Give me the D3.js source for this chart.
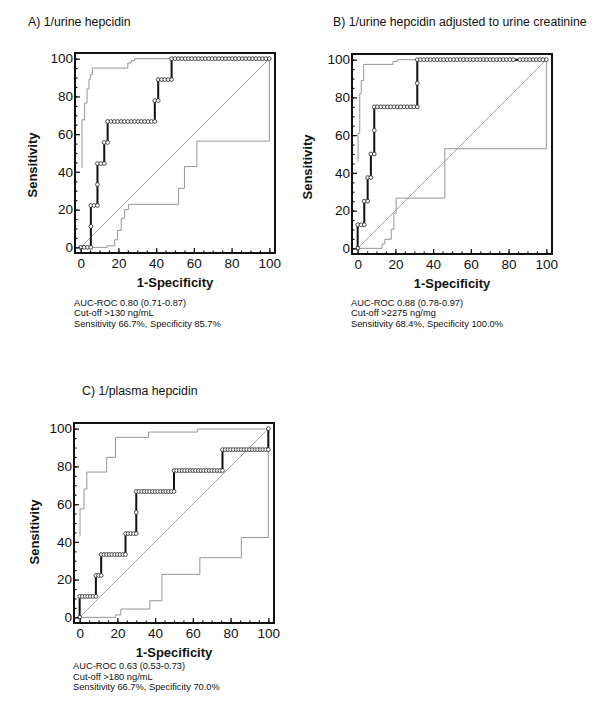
<!DOCTYPE html>
<html>
<head>
<meta charset="utf-8">
<script src="https://cdn.jsdelivr.net/npm/d3@7"></script>
<style>
  html, body { margin: 0; padding: 0; background: #fff; }
  svg { display: block; }
  text { font-family: "Liberation Sans", Arial, Helvetica, sans-serif; fill: #111; }
</style>
</head>
<body>
<script>
// ---------------- DATA ----------------
const titles = ["A) 1/urine hepcidin", "B) 1/urine hepcidin adjusted to urine creatinine", "C) 1/plasma hepcidin"];
const xAxisTitle = "1-Specificity";
const yAxisTitle = "Sensitivity";
const tickLabels = [0, 20, 40, 60, 80, 100];
const minorTicks = [0, 5, 10, 15, 20, 25, 30, 35, 40, 45, 50, 55, 60, 65, 70, 75, 80, 85, 90, 95, 100];

// ROC points: [sensitivity, [1-specificity values of points on that level]]
const rocA = [
  [0, [0, 1.8, 3.6, 5.4]],
  [11.1, [5.4]],
  [22.2, [5.4, 7.1, 8.9]],
  [33.3, [8.9]],
  [44.4, [8.9, 10.7, 12.5]],
  [55.6, [12.5, 14.3]],
  [66.7, [14.3, 16.1, 17.9, 19.6, 21.4, 23.2, 25.0, 26.8, 28.6, 30.4, 32.1, 33.9, 35.7, 37.5, 39.3]],
  [77.8, [39.3, 41.1]],
  [88.9, [41.1, 42.9, 44.6, 46.4, 48.2]],
  [100, [48.2, 50.0, 51.8, 53.6, 55.4, 57.1, 58.9, 60.7, 62.5, 64.3, 66.1, 67.9, 69.6, 71.4, 73.2, 75.0,
         76.8, 78.6, 80.4, 82.1, 83.9, 85.7, 87.5, 89.3, 91.1, 92.9, 94.6, 96.4, 98.2, 100]]
];
const upperA = [[0.7,42],[0.7,67.6],[2.1,67.6],[2.1,76.5],[3.4,76.5],[3.4,84],[4.4,84],[4.4,89],[5.1,89],[5.1,91.5],
  [6.2,91.5],[6.2,95],[25,95],[25,97.7],[26.8,97.7],[26.8,99],[28.6,99],[28.6,100],[100,100]];
const lowerA = [[0,0],[14,0],[14,0.8],[18,0.8],[18,4],[19.5,4],[19.5,9],[21.5,9],[21.5,15.4],[23.3,15.4],[23.3,20],
  [25.3,20],[25.3,22.8],[51.9,22.8],[51.9,31.3],[55,31.3],[55,42.8],[61.6,42.8],[61.6,56.3],[100,56.3],[100,100]];
const notesA = ["AUC-ROC 0.80 (0.71-0.87)", "Cut-off >130 ng/mL", "Sensitivity 66.7%, Specificity 85.7%"];

const rocB = [
  [0, [0]],
  [12.5, [0, 1.8, 3.5]],
  [25, [3.5, 5.3]],
  [37.5, [5.3, 7.0]],
  [50, [7.0, 8.8]],
  [62.5, [8.8]],
  [75, [8.8, 10.5, 12.3, 14.0, 15.8, 17.5, 19.3, 21.1, 22.8, 24.6, 26.3, 28.1, 29.8, 31.6]],
  [87.5, [31.6]],
  [100, [31.6, 33.3, 35.1, 36.8, 38.6, 40.4, 42.1, 43.9, 45.6, 47.4, 49.1, 50.9, 52.6, 54.4, 56.1, 57.9,
         59.6, 61.4, 63.2, 64.9, 66.7, 68.4, 70.2, 71.9, 73.7, 75.4, 77.2, 78.9, 80.7, 82.5, 86.0, 87.7,
         89.5, 91.2, 93.0, 94.7, 96.5, 98.2, 100]]
];
const upperB = [[0.2,46],[0.2,61],[1.1,61],[1.1,82],[1.9,82],[1.9,89],[3.2,89],[3.2,97.5],[18.7,97.5],[18.7,99],
  [21,99],[21,100],[100,100]];
const lowerB = [[0,0],[12.9,0],[12.9,2.3],[14.4,2.3],[14.4,4.8],[17.8,4.8],[17.8,10.1],[19.2,10.1],[19.2,18.6],
  [20.4,18.6],[20.4,26.6],[46.2,26.6],[46.2,52.8],[100,52.8],[100,100]];
const notesB = ["AUC-ROC 0.88 (0.78-0.97)", "Cut-off >2275 ng/mg", "Sensitivity 68.4%, Specificity 100.0%"];

const rocC = [
  [0, [0]],
  [11.1, [0, 1.4, 2.9, 4.3, 5.7, 7.1, 8.6]],
  [22.2, [8.6, 10.0, 11.4]],
  [33.3, [11.4, 12.9, 14.3, 15.7, 17.1, 18.6, 20.0, 21.4, 22.9, 24.3]],
  [44.4, [24.3, 25.7, 27.1, 28.6, 30.0]],
  [55.6, [30.0]],
  [66.7, [30.0, 31.4, 32.9, 34.3, 35.7, 37.1, 38.6, 40.0, 41.4, 42.9, 44.3, 45.7, 47.1, 48.6, 50.0]],
  [77.8, [50.0, 51.4, 52.9, 54.3, 55.7, 57.1, 58.6, 60.0, 61.4, 62.9, 64.3, 65.7, 67.1, 68.6, 70.0, 71.4, 72.9, 74.3, 75.7]],
  [88.9, [75.7, 77.1, 78.6, 80.0, 81.4, 82.9, 84.3, 85.7, 87.1, 88.6, 90.0, 91.4, 92.9, 94.3, 95.7, 97.1, 98.6, 100]],
  [100, [100]]
];
const upperC = [[0.2,43],[0.2,57.5],[2.3,57.5],[2.3,68],[3.8,68],[3.8,77],[14.3,77],[14.3,84.8],[19,84.8],[19,95.4],
  [36.5,95.4],[36.5,98.2],[62.3,98.2],[62.3,99.8],[100,99.8]];
const lowerC = [[0,0],[19,0],[19,1.3],[21.8,1.3],[21.8,4.4],[37.2,4.4],[37.2,8.8],[43.6,8.8],[43.6,22.8],[63.7,22.8],
  [63.7,31.6],[85.7,31.6],[85.7,42.3],[100,42.3],[100,100]];
const notesC = ["AUC-ROC 0.63 (0.53-0.73)", "Cut-off >180 ng/mL", "Sensitivity 66.7%, Specificity 70.0%"];

// ---------------- LAYOUT ----------------
const W = 600, H = 705, S = 200;
const panels = [
  { title: titles[0], tx: 28, ty: 26, bx: 75, by: 53, sx: 37, sy: 165, specY: 287, ax: 74, ay: 305.5,
    roc: rocA, upper: upperA, lower: lowerA, notes: notesA },
  { title: titles[1], tx: 333, ty: 26, bx: 352, by: 54, sx: 312, sy: 167, specY: 287.5, ax: 351, ay: 305.5,
    roc: rocB, upper: upperB, lower: lowerB, notes: notesB },
  { title: titles[2], tx: 82, ty: 394.5, bx: 74, by: 423, sx: 38.5, sy: 532, specY: 657, ax: 73, ay: 669,
    roc: rocC, upper: upperC, lower: lowerC, notes: notesC }
];

const svg = d3.select("body").append("svg").attr("width", W).attr("height", H);

panels.forEach(p => {
  const g = svg.append("g");
  const x = d3.scaleLinear().domain([-3, 103]).range([p.bx, p.bx + S]);
  const y = d3.scaleLinear().domain([-3, 103]).range([p.by + S, p.by]);

  // title
  g.append("text").attr("x", p.tx).attr("y", p.ty).attr("font-size", 12.3).text(p.title);

  // diagonal
  const line = d3.line().x(d => x(d[0])).y(d => y(d[1]));
  g.append("path").attr("d", line([[0, 0], [100, 100]]))
    .attr("fill", "none").attr("stroke", "#8c8c8c").attr("stroke-width", 0.8);

  // confidence bands
  [p.upper, p.lower].forEach(b => {
    g.append("path").attr("d", line(b)).attr("fill", "none")
      .attr("stroke", "#959595").attr("stroke-width", 1);
  });

  // ROC points
  const pts = [];
  p.roc.forEach(([sens, fprs]) => fprs.forEach(f => pts.push([f, sens])));
  g.append("path").attr("d", line(pts)).attr("fill", "none")
    .attr("stroke", "#111").attr("stroke-width", 2).attr("stroke-linejoin", "miter");
  g.selectAll("circle.pt").data(pts).join("circle").attr("class", "pt")
    .attr("cx", d => x(d[0])).attr("cy", d => y(d[1])).attr("r", 1.9)
    .attr("fill", "#fff").attr("stroke", "#222").attr("stroke-width", 0.8);

  // axes (ticks pointing inward)
  const yAxisMinor = d3.axisLeft(y).tickValues(minorTicks).tickSize(-2.5).tickFormat("");
  const yAxisMajor = d3.axisLeft(y).tickValues(tickLabels).tickSize(-5).tickPadding(2);
  const xAxisMinor = d3.axisBottom(x).tickValues(minorTicks).tickSize(-2.5).tickFormat("");
  const xAxisMajor = d3.axisBottom(x).tickValues(tickLabels).tickSize(-5).tickPadding(5);
  [yAxisMinor, yAxisMajor].forEach(a => {
    const ag = g.append("g").attr("transform", `translate(${p.bx},0)`).call(a);
    ag.select(".domain").remove();
    ag.selectAll("line").attr("stroke", "#111").attr("stroke-width", 1.2);
    ag.selectAll("text").attr("font-size", 13.5).attr("fill", "#111")
      .attr("font-family", '"Liberation Sans", Arial, sans-serif');
  });
  [xAxisMinor, xAxisMajor].forEach(a => {
    const ag = g.append("g").attr("transform", `translate(0,${p.by + S})`).call(a);
    ag.select(".domain").remove();
    ag.selectAll("line").attr("stroke", "#111").attr("stroke-width", 1.2);
    ag.selectAll("text").attr("font-size", 13.5).attr("fill", "#111")
      .attr("font-family", '"Liberation Sans", Arial, sans-serif');
  });

  // frame
  g.append("rect").attr("x", p.bx).attr("y", p.by).attr("width", S).attr("height", S)
    .attr("fill", "none").attr("stroke", "#111").attr("stroke-width", 2);

  // axis titles
  g.append("text").attr("x", p.bx + S / 2).attr("y", p.specY).attr("text-anchor", "middle")
    .attr("font-size", 13).attr("font-weight", "bold").text(xAxisTitle);
  g.append("text").attr("transform", `translate(${p.sx},${p.sy}) rotate(-90)`).attr("text-anchor", "middle")
    .attr("font-size", 13).attr("font-weight", "bold").text(yAxisTitle);

  // notes
  p.notes.forEach((t, i) => {
    g.append("text").attr("x", p.ax).attr("y", p.ay + i * 10.5).attr("font-size", 9.3).text(t);
  });
});
</script>
</body>
</html>
